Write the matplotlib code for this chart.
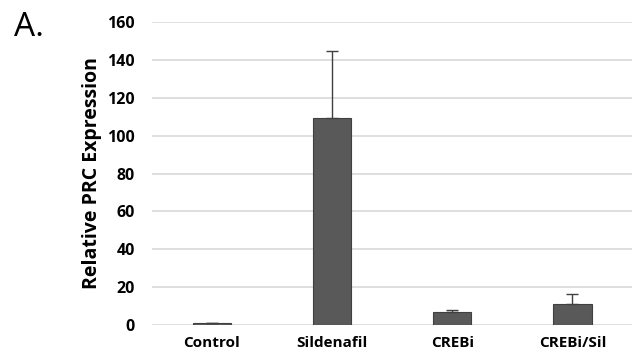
import numpy as np
import matplotlib
matplotlib.use("Agg")
import matplotlib.pyplot as plt

plt.rcParams['font.family'] = ['Open Sans', 'DejaVu Sans']

categories = ["Control", "Sildenafil", "CREBi", "CREBi/Sil"]
values = [0.8, 109.3, 6.9, 11.0]
errors = [0.0, 35.2, 1.2, 5.5]
yticks = [0, 20, 40, 60, 80, 100, 120, 140, 160]

fig = plt.figure(figsize=(6.35, 3.63), dpi=100)
ax = fig.add_axes([0.239, 0.105, 0.757, 0.834])

x = np.arange(len(categories))
ax.bar(x, values, width=0.32, color="#595959", edgecolor="#404040", linewidth=0.8, zorder=3)
ax.errorbar(x, values, yerr=[np.zeros(len(errors)), errors], fmt="none",
            ecolor="#404040", elinewidth=1, capsize=4, capthick=1, zorder=4)

ax.set_xlim(-0.5, len(categories) - 0.5)
ax.set_ylim(0, 160)
ax.set_yticks(yticks)
ax.set_xticks(x)
ax.set_xticklabels(categories, fontsize=11, fontweight="bold")
ax.set_yticklabels([str(t) for t in yticks], fontsize=11.5, fontweight="bold")
ax.yaxis.grid(True, color="#d9d9d9", linewidth=1.2, zorder=0)
ax.set_axisbelow(True)
for s in ax.spines.values():
    s.set_visible(False)
ax.tick_params(length=0, pad=8)
ax.tick_params(axis="y", pad=12)
ax.set_ylabel("Relative PRC Expression", fontsize=14, fontweight="bold", labelpad=4)

fig.text(0.022, 0.9, "A.", fontsize=24)

fig.savefig("out.png", dpi=100)
